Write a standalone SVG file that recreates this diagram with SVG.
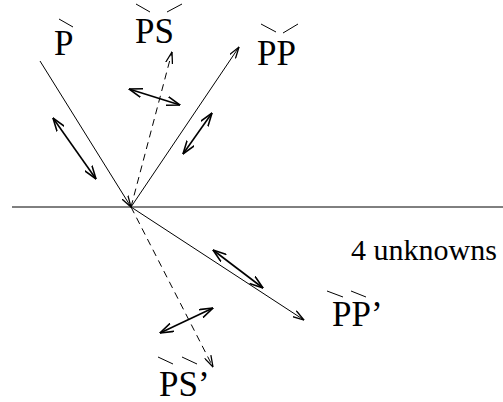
<svg xmlns="http://www.w3.org/2000/svg" width="503" height="402" viewBox="0 0 503 402">
<style>
text{font-family:'Liberation Serif','DejaVu Serif','Times New Roman',serif;fill:#000}
.lbl{font-size:35px}
.note{font-size:30px}
.ray{stroke:#000;stroke-width:1;fill:none}
.dash{stroke-dasharray:7,5}
.dbl{stroke:#000;stroke-width:1.6;fill:none}
.bar{stroke:#000;stroke-width:1;fill:none}
</style>
<defs>
<marker id="ah" viewBox="0 0 12 8" refX="11.5" refY="4" markerWidth="12" markerHeight="8" markerUnits="userSpaceOnUse" orient="auto-start-reverse">
<path d="M0,0.5 L11.5,4 L0,7.5" fill="none" stroke="#000" stroke-width="1.3"/>
</marker>
<marker id="ahs" viewBox="0 0 14 10" refX="13.5" refY="5" markerWidth="14" markerHeight="10" markerUnits="userSpaceOnUse" orient="auto-start-reverse">
<path d="M0,0.5 L13.5,5 L0,9.5" fill="none" stroke="#000" stroke-width="1.6"/>
</marker>
</defs>
<rect width="503" height="402" fill="#fff"/>
<g id="interface"><line x1="12" y1="207" x2="503" y2="207" stroke="#000" stroke-width="1"/></g>
<g id="connectors">
<line class="ray" x1="40" y1="61" x2="131" y2="207" marker-end="url(#ah)"/>
<line class="ray dash" x1="131" y1="207" x2="172" y2="52" marker-end="url(#ah)"/>
<line class="ray" x1="131" y1="207" x2="239" y2="47" marker-end="url(#ah)"/>
<line class="ray" x1="131" y1="207" x2="304" y2="320" marker-end="url(#ah)"/>
<line class="ray dash" x1="131" y1="207" x2="213" y2="367" marker-end="url(#ah)"/>
<line class="dbl" x1="53" y1="118" x2="96" y2="179" marker-start="url(#ahs)" marker-end="url(#ahs)"/>
<line class="dbl" x1="129" y1="89" x2="180" y2="105" marker-start="url(#ahs)" marker-end="url(#ahs)"/>
<line class="dbl" x1="212" y1="113" x2="183" y2="154" marker-start="url(#ahs)" marker-end="url(#ahs)"/>
<line class="dbl" x1="213" y1="250" x2="263" y2="288" marker-start="url(#ahs)" marker-end="url(#ahs)"/>
<line class="dbl" x1="160" y1="333" x2="213" y2="308" marker-start="url(#ahs)" marker-end="url(#ahs)"/>
</g>
<g id="node-P">
<line class="bar" x1="59" y1="19" x2="73" y2="27"/>
<text class="lbl" x="54" y="55" font-family="Liberation Serif, serif">P</text>
</g>
<g id="node-PS">
<line class="bar" x1="136" y1="4" x2="150" y2="12"/>
<line class="bar" x1="167" y1="12" x2="182" y2="4"/>
<text class="lbl" x="135" y="43" font-family="Liberation Serif, serif">PS</text>
</g>
<g id="node-PP">
<line class="bar" x1="261" y1="24" x2="276" y2="32"/>
<line class="bar" x1="283" y1="33" x2="298" y2="24"/>
<text class="lbl" x="257" y="65" font-family="Liberation Serif, serif">PP</text>
</g>
<g id="node-PPp">
<line class="bar" x1="327" y1="291" x2="343" y2="297"/>
<line class="bar" x1="351" y1="291" x2="366" y2="297"/>
<text class="lbl" x="332" y="326" font-family="Liberation Serif, serif">PP’</text>
</g>
<g id="node-PSp">
<line class="bar" x1="158" y1="357" x2="173" y2="364"/>
<line class="bar" x1="182" y1="357" x2="197" y2="364"/>
<text class="lbl" x="159" y="396" font-family="Liberation Serif, serif">PS’</text>
</g>
<g id="note">
<text class="note" x="351" y="260" font-family="Liberation Serif, serif">4 unknowns</text>
</g>
</svg>
